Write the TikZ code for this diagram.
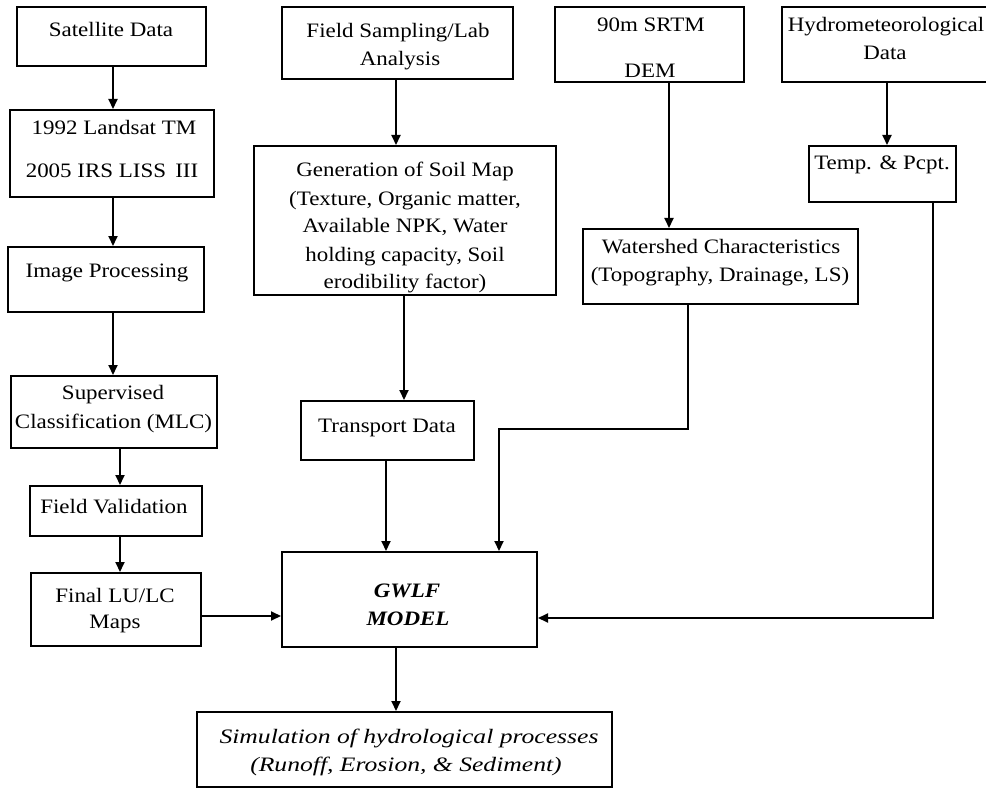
\documentclass[tikz,border=0pt]{standalone}
\usepackage{fontspec}
\setmainfont{Liberation Serif}[FakeStretch=1.12]
\newfontfamily\simfont{Liberation Serif}[FakeStretch=1.25]
\usetikzlibrary{arrows.meta}
\begin{document}
\begin{tikzpicture}[x=1pt,y=-1pt,
  box/.style={draw, line width=2pt, inner sep=0pt, rectangle},
  txt/.style={anchor=base, inner sep=0pt, font=\fontsize{20.5}{28}\selectfont},
  arr/.style={line width=2pt, -{Triangle[length=10pt,width=9pt]}}]
\useasboundingbox (0,0) rectangle (986,789);
\clip (0,0) rectangle (986,789);
% boxes
\node[box, minimum width=189pt, minimum height=59pt] (sat) at (111.5,36.5) {};
\node[box, minimum width=204pt, minimum height=87pt] (land) at (112,153.5) {};
\node[box, minimum width=196pt, minimum height=65pt] (img) at (106,279.5) {};
\node[box, minimum width=206pt, minimum height=72pt] (sup) at (114,412) {};
\node[box, minimum width=172pt, minimum height=50pt] (fv) at (116,511) {};
\node[box, minimum width=170pt, minimum height=73pt] (final) at (116,609.5) {};
\node[box, minimum width=255pt, minimum height=95pt] (gwlf) at (409.5,599.5) {};
\node[box, minimum width=415pt, minimum height=75pt] (sim) at (404.5,749.5) {};
\node[box, minimum width=173pt, minimum height=59pt] (trans) at (387.5,430.5) {};
\node[box, minimum width=231pt, minimum height=72pt] (fs) at (397.5,43) {};
\node[box, minimum width=302pt, minimum height=149pt] (soil) at (405,220.5) {};
\node[box, minimum width=189pt, minimum height=75pt] (srtm) at (649.5,44.5) {};
\node[box, minimum width=208pt, minimum height=75pt] (hydro) at (886,44.5) {};
\node[box, minimum width=147pt, minimum height=56pt] (temp) at (882.5,174) {};
\node[box, minimum width=275pt, minimum height=75pt] (ws) at (720.5,266.5) {};
% texts
\node[txt] (sat-t) at (111,37) {Satellite Data};
\node[txt] (land-t1) at (114,135) {1992 Landsat TM};
\node[txt] (land-t2) at (112,178) {2005 IRS LISS\, III};
\node[txt] (img-t) at (107,277) {Image Processing};
\node[txt] (sup-t1) at (113,399) {Supervised};
\node[txt] (sup-t2) at (113.5,428) {Classification (MLC)};
\node[txt] (fv-t) at (114,513) {Field Validation};
\node[txt] (final-t1) at (115,602) {Final LU/LC};
\node[txt] (final-t2) at (115,628) {Maps};
\node[txt] (fs-t1) at (398,38) {Field Sampling/Lab};
\node[txt] (fs-t2) at (400,66) {Analysis};
\node[txt] (soil-t1) at (405,177) {Generation of Soil Map};
\node[txt] (soil-t2) at (405,205) {(Texture, Organic matter,};
\node[txt] (soil-t3) at (405,233) {Available NPK, Water};
\node[txt] (soil-t4) at (405,261) {holding capacity, Soil};
\node[txt] (soil-t5) at (405,288) {erodibility factor)};
\node[txt] (trans-t) at (387,432) {Transport Data};
\node[txt, font=\fontsize{20.5}{28}\selectfont\bfseries\itshape] (gwlf-t1) at (407,597) {GWLF};
\node[txt, font=\fontsize{20.5}{28}\selectfont\bfseries\itshape] (gwlf-t2) at (408,625) {MODEL};
\node[txt, font=\fontsize{20.5}{28}\selectfont\simfont\itshape] (sim-t1) at (409,743) {Simulation of hydrological processes};
\node[txt, font=\fontsize{20.5}{28}\selectfont\simfont\itshape] (sim-t2) at (406,771) {(Runoff, Erosion, \& Sediment)};
\node[txt] (srtm-t1) at (651,32) {90m SRTM};
\node[txt] (srtm-t2) at (650,78) {DEM};
\node[txt] (hydro-t1) at (886,32) {Hydrometeorological};
\node[txt] (hydro-t2) at (885,60) {Data};
\node[txt] (temp-t) at (882,170) {Temp. \& Pcpt.};
\node[txt] (ws-t1) at (721,253) {Watershed Characteristics};
\node[txt] (ws-t2) at (720,281) {(Topography, Drainage, LS)};
% connectors
\draw[arr] ([xshift=1.5pt]sat.south) -- ([xshift=1.5pt]sat.south |- land.north);
\draw[arr] ([xshift=1pt]land.south) -- ([xshift=1pt]land.south |- img.north);
\draw[arr] ([xshift=-1pt]sup.north |- img.south) -- ([xshift=-1pt]sup.north);
\draw[arr] ([xshift=4pt]fv.north |- sup.south) -- ([xshift=4pt]fv.north);
\draw[arr] ([xshift=4pt]fv.south) -- ([xshift=4pt]fv.south |- final.north);
\draw[arr] ([yshift=-6.5pt]final.east) -- ([yshift=-6.5pt]final.east -| gwlf.west);
\draw[arr] ([xshift=-1.5pt]fs.south) -- ([xshift=-1.5pt]fs.south |- soil.north);
\draw[arr] ([xshift=-1pt]soil.south) -- ([xshift=-1pt]soil.south |- trans.north);
\draw[arr] ([xshift=-1.5pt]trans.south) -- ([xshift=-1.5pt]trans.south |- gwlf.north);
\draw[arr] ([xshift=19.5pt]srtm.south) -- ([xshift=19.5pt]srtm.south |- ws.north);
\draw[arr] ([xshift=-32.5pt]ws.south) -- ++(0,124) -| ([xshift=89.5pt]gwlf.north);
\draw[arr] ([xshift=4.5pt]temp.north |- hydro.south) -- ([xshift=4.5pt]temp.north);
\draw[arr] ([xshift=50.5pt]temp.south) |- ([yshift=-18.5pt]gwlf.east);
\draw[arr] ([xshift=-13.5pt]gwlf.south) -- ([xshift=-13.5pt]gwlf.south |- sim.north);
\end{tikzpicture}
\end{document}
